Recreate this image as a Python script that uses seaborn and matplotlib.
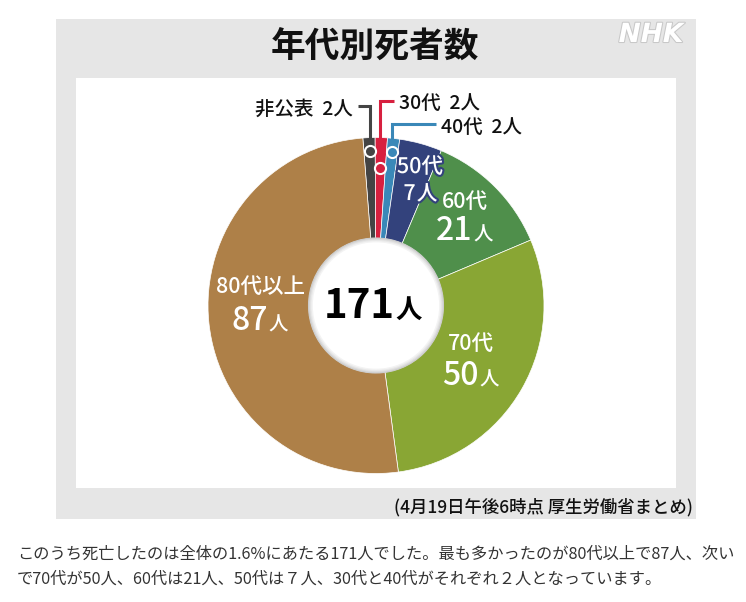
import numpy as np
import matplotlib
matplotlib.use("Agg")
import matplotlib.pyplot as plt
import matplotlib.patheffects as pe
from matplotlib.patches import Rectangle, Circle
import seaborn as sns

# data
age_groups = ["非公表", "30代", "40代", "50代", "60代", "70代", "80代以上"]
deaths = [2, 2, 2, 7, 21, 50, 87]
slice_colors = ["#444444", "#d7203f", "#3a88b8", "#33427c", "#4f8f4b", "#89a634", "#ae8048"]
title = "年代別死者数"
source_note = "(4月19日午後6時点 厚生労働省まとめ)"
body_lines = [
    "このうち死亡したのは全体の1.6%にあたる171人でした。最も多かったのが80代以上で87人、次い",
    "で70代が50人、60代は21人、50代は７人、30代と40代がそれぞれ２人となっています。",
]

sns.set_theme(style="white")
plt.rcParams["font.family"] = ["Noto Sans CJK JP", "DejaVu Sans"]

W, H = 746, 602
fig = plt.figure(figsize=(W / 100, H / 100), dpi=100)

# background panel in pixel coords
bg = fig.add_axes([0, 0, 1, 1])
bg.set_xlim(0, W)
bg.set_ylim(H, 0)
bg.axis("off")
bg.add_patch(Rectangle((56, 19), 640, 500, color="#e6e6e6", lw=0))
bg.add_patch(Rectangle((76, 78), 600, 410, color="white", lw=0))
bg.text(375, 47, title, ha="center", va="center", fontsize=25, weight="bold", color="#111111")
bg.text(651, 35, "NHK", ha="center", va="center", fontsize=19, weight="bold", style="italic",
        family="DejaVu Sans", color="white",
        path_effects=[pe.withStroke(linewidth=1.5, foreground="#c8c8c8")])
bg.text(693, 507, source_note, ha="right", va="center", fontsize=12.5, weight="medium", color="#111111")
for i, line in enumerate(body_lines):
    bg.text(17, 554 + i * 25, line, ha="left", va="center", fontsize=11.7, color="#333333")

# donut
cx, cy, R = 376, 305.5, 168
ax = fig.add_axes([(cx - R) / W, (H - cy - R) / H, 2 * R / W, 2 * R / H])
wedges, _ = ax.pie(deaths, colors=slice_colors, startangle=94.5, counterclock=False, radius=1,
                   wedgeprops=dict(width=0.6, linewidth=0.5, edgecolor="white"))
ax.set_xlim(-1, 1)
ax.set_ylim(-1, 1)
ax.set_aspect("equal")
ax.axis("off")

# inner disc with a soft edge shadow
for r, c in [(0.405, "#cccccc"), (0.398, "#dbdbdb"), (0.391, "#e8e8e8"), (0.384, "#f3f3f3"), (0.376, "white")]:
    ax.add_patch(Circle((0, 0), r, color=c, lw=0, zorder=3))

px = 1.0 / R          # data units per pixel
pt = 100 / 72 * px    # data units per point


def mid_point(w, r, dtheta=0.0):
    a = np.deg2rad((w.theta1 + w.theta2) / 2 - dtheta)
    return r * np.cos(a), r * np.sin(a)


def num_unit(x, y, num, unit, num_size, unit_size, weight="normal", halo=None, color="white"):
    num_w = len(num) * 0.52 * num_size * pt
    unit_w = 0.95 * unit_size * pt
    split = x - (num_w + unit_w) / 2 + num_w
    kw = dict(va="baseline", color=color, weight=weight, zorder=6)
    if halo:
        kw["path_effects"] = [pe.withStroke(linewidth=3, foreground=halo)]
    ax.text(split, y, num, ha="right", fontsize=num_size, **kw)
    ax.text(split + 1 * px, y, unit, ha="left", fontsize=unit_size, **kw)


# center total
num_unit(0, -0.074, str(sum(deaths)), "人", 29, 19, weight="bold", color="black")

# labels inside the larger slices: radius, angle nudge (deg, clockwise), baseline drop (px), sizes
inner_layout = {3: (0.78, 4.1, 18, 15.5, 15), 4: (0.747, 0.2, 23, 23, 14),
                5: (0.649, -0.3, 26, 23, 14), 6: (0.69, 7.8, 28, 23, 14)}
for i, (r, dth, drop, ns, us) in inner_layout.items():
    x, y = mid_point(wedges[i], r, dth)
    halo = slice_colors[i] if i == 3 else None
    t_kw = dict(ha="center", va="center", fontsize=15.5, weight="medium", color="white", zorder=6)
    if halo:
        t_kw["path_effects"] = [pe.withStroke(linewidth=3, foreground=halo)]
    ax.text(x, y + 15 * px, age_groups[i], **t_kw)
    num_unit(x, y - drop * px, str(deaths[i]), "人", ns, us, weight="medium", halo=halo)

# leader lines for the thin slices
leader_layout = {0: (0.92, 1.19, -0.07, 1.17), 1: (0.82, 1.217, 0.08, 1.205), 2: (0.92, 1.08, 0.26, 1.062)}
for i, (r, elbow, hook, ty) in leader_layout.items():
    x, y = mid_point(wedges[i], r)
    c = slice_colors[i]
    ax.plot([x, x, x + hook], [y, elbow, elbow], color=c, lw=2.2, clip_on=False,
            solid_joinstyle="miter", solid_capstyle="butt", zorder=4)
    ax.plot(x, y, "o", ms=8, mfc=c, mec="white", mew=1.5, clip_on=False, zorder=5)
    tx = x + hook + (0.03 if hook > 0 else -0.03)
    ax.text(tx, ty, f"{age_groups[i]}  {deaths[i]}人", ha="left" if hook > 0 else "right",
            va="center", fontsize=14, weight="medium", color="#111111", clip_on=False)

fig.savefig("out.png", dpi=100)
